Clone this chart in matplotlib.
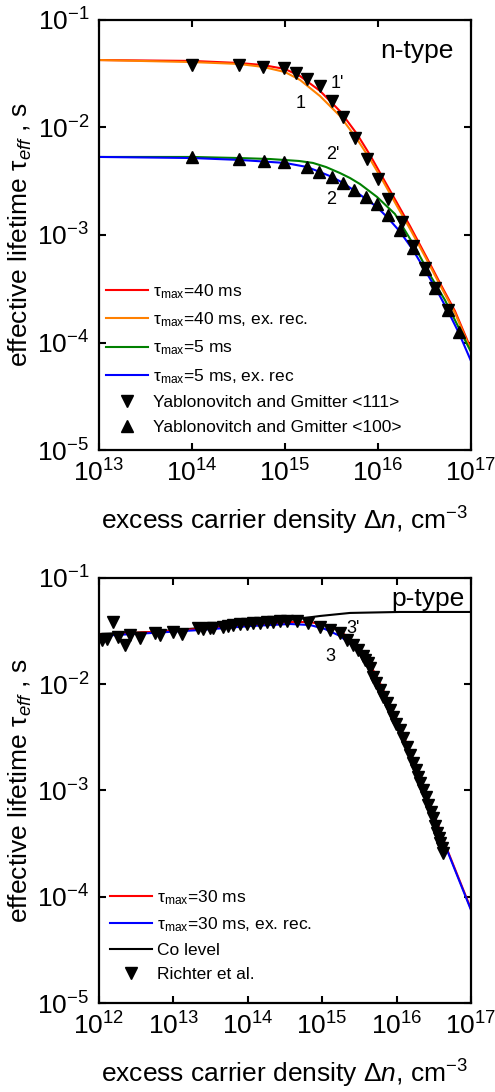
import matplotlib
matplotlib.use('Agg')
import matplotlib.pyplot as plt

plt.rcParams['font.family'] = ['Liberation Sans', 'DejaVu Sans']
plt.rcParams['mathtext.fontset'] = 'custom'
plt.rcParams['mathtext.rm'] = 'Liberation Sans'
plt.rcParams['mathtext.it'] = 'Liberation Sans:italic'
plt.rcParams['mathtext.default'] = 'regular'

# ---- n-type panel (top) ----
n_dn_red = [1e13, 1e14, 3.2e14, 5.8e14, 1e15, 1.45e15, 2.38e15, 3.9e15, 5.94e15, 8.2e15,
            1.13e16, 1.6e16, 2.21e16, 3.36e16, 4.64e16, 6.73e16, 1e17]
n_tau_red = [0.0424, 0.0416, 0.0398, 0.0381, 0.0350, 0.0301, 0.0219, 0.0142, 8.71e-3, 5.55e-3,
             3.39e-3, 1.99e-3, 1.21e-3, 6.11e-4, 3.57e-4, 1.96e-4, 8.7e-5]
n_tau_orange = [0.0424, 0.0406, 0.0390, 0.0366, 0.0328, 0.0277, 0.0196, 0.0128, 7.82e-3, 5.09e-3,
                3.18e-3, 1.86e-3, 1.14e-3, 5.85e-4, 3.43e-4, 1.88e-4, 8.4e-5]
n_dn_green = [1e13, 1e14, 3.2e14, 6.9e14, 1.42e15, 2e15, 2.76e15, 3.9e15, 5e15, 6.4e15,
              9.76e15, 1.52e16, 2.5e16, 3.62e16, 5.25e16, 7.24e16, 1e17]
n_tau_green = [5.32e-3, 5.32e-3, 5.2e-3, 5.09e-3, 4.88e-3, 4.68e-3, 4.29e-3, 3.77e-3, 3.39e-3, 2.98e-3,
               2.26e-3, 1.57e-3, 7.73e-4, 4.25e-4, 2.48e-4, 1.42e-4, 8.17e-5]
n_dn_blue = [1e13, 1e14, 3.28e14, 1e15, 1.73e15, 2.38e15, 3.2e15, 4.2e15, 5.66e15, 7.43e15,
             9.76e15, 1.28e16, 1.73e16, 2.38e16, 3.2e16, 4.21e16, 5.66e16, 7.43e16, 1e17]
n_tau_blue = [5.32e-3, 5.2e-3, 4.99e-3, 4.68e-3, 4.29e-3, 3.85e-3, 3.47e-3, 3.05e-3, 2.56e-3, 2.16e-3,
              1.82e-3, 1.44e-3, 1.07e-3, 7.25e-4, 4.72e-4, 3.15e-4, 1.96e-4, 1.22e-4, 6.73e-5]

# Yablonovitch and Gmitter
yg111_dn = [1e14, 3.2e14, 5.8e14, 9.8e14, 1.31e15, 1.73e15, 2.38e15, 3.2e15, 4.2e15, 5.66e15,
            7.6e15, 1e16, 1.28e16, 1.81e16, 2.38e16, 3.2e16, 4.1e16, 5.66e16]
yg111_tau = [0.0381, 0.0381, 0.0366, 0.0358, 0.0321, 0.0282, 0.0243, 0.0176, 0.0125, 7.98e-3,
             5.09e-3, 3.32e-3, 2.16e-3, 1.32e-3, 7.9e-4, 4.93e-4, 3.21e-4, 2.0e-4]
yg100_dn = [1e14, 3.2e14, 5.94e14, 9.8e14, 1.73e15, 2.32e15, 3.2e15, 4.2e15, 5.52e15, 7.43e15,
            9.76e15, 1.28e16, 1.73e16, 2.38e16, 3.2e16, 4.1e16, 5.66e16, 7.43e16]
yg100_tau = [5.32e-3, 5.09e-3, 4.88e-3, 4.78e-3, 4.29e-3, 3.86e-3, 3.47e-3, 3.05e-3, 2.62e-3, 2.26e-3,
             1.94e-3, 1.53e-3, 1.11e-3, 7.57e-4, 4.83e-4, 3.21e-4, 2.0e-4, 1.25e-4]

# ---- p-type panel (bottom) ----
p_dn = [1e12, 4.84e12, 2.28e13, 1.07e14, 3.69e14, 6.86e14, 1.09e15, 1.73e15, 2.59e15, 3.76e15,
        5.62e15, 8.15e15, 1.11e16, 2.07e16, 4.76e16, 1e17]
p_tau_red = [0.0291, 0.0310, 0.0331, 0.0361, 0.0385, 0.0385, 0.0361, 0.0317, 0.0255, 0.0188,
             0.0112, 6.52e-3, 3.96e-3, 1.34e-3, 2.81e-4, 7.67e-5]
p_tau_blue = [0.0285, 0.0303, 0.0324, 0.0353, 0.0369, 0.0361, 0.0331, 0.0285, 0.0229, 0.0169,
              0.0103, 6.11e-3, 3.71e-3, 1.28e-3, 2.75e-4, 7.5e-5]
co_dn = [1e12, 4.84e12, 2.28e13, 1.07e14, 3.69e14, 9.33e14, 2.37e15, 1.11e16, 1e17]
co_tau = [0.0297, 0.0310, 0.0338, 0.0369, 0.0403, 0.0439, 0.0469, 0.0479, 0.0479]

# Richter et al.
ri_dn = [1.10e12, 1.28e12, 1.54e12, 1.80e12, 2.23e12, 2.61e12, 3.56e12, 5.66e12, 6.61e12, 9.9e12,
         1.31e13, 2.14e13, 2.50e13, 3.10e13, 3.40e13, 4.64e13, 5.42e13, 6.33e13, 7.85e13, 9.75e13,
         1.17e14, 1.46e14, 1.81e14, 2.18e14, 2.71e14, 3.37e14, 4.58e14, 6.44e14, 9.34e14, 1.27e15,
         1.73e15, 2.15e15, 2.59e15, 3.03e15, 3.53e15, 3.76e15, 4.13e15, 4.39e15, 4.82e15, 5.28e15,
         5.98e15, 6.56e15, 7.43e15, 8.15e15, 8.95e15, 9.82e15, 1.11e16, 1.22e16, 1.38e16, 1.51e16,
         1.66e16, 1.82e16, 1.94e16, 2.07e16, 2.26e16, 2.48e16, 2.64e16, 2.90e16, 3.08e16, 3.28e16,
         3.49e16, 3.72e16, 3.83e16, 4.07e16, 4.21e16]
ri_tau = [0.0261, 0.0267, 0.0385, 0.0279, 0.0234, 0.0291, 0.0272, 0.0303, 0.0291, 0.0310,
          0.0297, 0.0338, 0.0331, 0.0338, 0.0338, 0.0346, 0.0353, 0.0361, 0.0369, 0.0369,
          0.0377, 0.0377, 0.0385, 0.0385, 0.0394, 0.0394, 0.0394, 0.0377, 0.0346, 0.0324,
          0.0303, 0.0261, 0.0234, 0.0210, 0.0184, 0.0169, 0.0158, 0.0142, 0.0117, 0.0103,
          8.83e-3, 7.59e-3, 6.66e-3, 5.72e-3, 4.92e-3, 4.23e-3, 3.71e-3, 3.12e-3, 2.57e-3, 2.16e-3,
          1.81e-3, 1.56e-3, 1.34e-3, 1.18e-3, 1.01e-3, 8.69e-4, 7.31e-4, 6.28e-4, 5.51e-4, 4.64e-4,
          3.98e-4, 3.57e-4, 3.21e-4, 2.88e-4, 2.58e-4]

TICK_FS = 19
LBL_FS = 19
LEG_FS = 12.5


def style_axes(ax, xticks):
   ax.set_xscale('log')
   ax.set_yscale('log')
   ax.set_xlim(xticks[0], xticks[-1])
   ax.set_ylim(1e-5, 1e-1)
   ax.set_xticks(xticks)
   ax.set_yticks([1e-5, 1e-4, 1e-3, 1e-2, 1e-1])
   ax.minorticks_off()
   ax.tick_params(which='major', direction='in', top=True, right=True,
                  length=5, width=1.5, labelsize=TICK_FS, pad=7)
   for sp in ax.spines.values():
      sp.set_linewidth(1.6)
   ax.set_ylabel(r'effective lifetime $\tau_{\mathit{eff}}$ , s', fontsize=LBL_FS, labelpad=2)
   ax.set_xlabel(r'excess carrier density $\Delta\mathit{n}$, cm$^{-3}$', fontsize=LBL_FS, labelpad=13)


fig = plt.figure(figsize=(4.95, 10.92), dpi=100)
ax1 = fig.add_axes([0.2, 0.5879, 0.7515, 0.3938])
ax2 = fig.add_axes([0.2, 0.0815, 0.7515, 0.3892])

# top panel
l1, = ax1.plot(n_dn_red, n_tau_red, color='#ff0000', lw=1.5, label=r'$\tau_{max}$=40 ms')
l2, = ax1.plot(n_dn_red, n_tau_orange, color='#ff8000', lw=1.5, label=r'$\tau_{max}$=40 ms, ex. rec.')
l3, = ax1.plot(n_dn_green, n_tau_green, color='#008000', lw=1.5, label=r'$\tau_{max}$=5 ms')
l4, = ax1.plot(n_dn_blue, n_tau_blue, color='#0000ff', lw=1.5, label=r'$\tau_{max}$=5 ms, ex. rec')
s1, = ax1.plot(yg111_dn, yg111_tau, 'v', color='k', ms=9, ls='none', label='Yablonovitch and Gmitter <111>')
s2, = ax1.plot(yg100_dn, yg100_tau, '^', color='k', ms=9, ls='none', label='Yablonovitch and Gmitter <100>')
style_axes(ax1, [1e13, 1e14, 1e15, 1e16, 1e17])
ax1.legend(handles=[l1, l2, l3, l4, s1, s2], loc='lower left', bbox_to_anchor=(0.02, 0.035),
           frameon=False, fontsize=LEG_FS, handlelength=2.4, handletextpad=0.3,
           labelspacing=0.55, borderpad=0, borderaxespad=0)
ax1.text(3.62e15, 0.0254, "1'", fontsize=13, ha='center', va='center')
ax1.text(1.49e15, 0.0166, "1", fontsize=13, ha='center', va='center')
ax1.text(3.28e15, 5.55e-3, "2'", fontsize=13, ha='center', va='center')
ax1.text(3.13e15, 2.16e-3, "2", fontsize=13, ha='center', va='center')
ax1.text(0.952, 0.928, 'n-type', transform=ax1.transAxes, fontsize=19, ha='right', va='center')

# bottom panel
c1, = ax2.plot(co_dn, co_tau, color='k', lw=1.5, label='Co level')
r1, = ax2.plot(p_dn, p_tau_red, color='#ff0000', lw=1.5, label=r'$\tau_{max}$=30 ms')
b1, = ax2.plot(p_dn, p_tau_blue, color='#0000ff', lw=1.5, label=r'$\tau_{max}$=30 ms, ex. rec.')
s3, = ax2.plot(ri_dn, ri_tau, 'v', color='k', ms=8.5, ls='none', label='Richter et al.')
style_axes(ax2, [1e12, 1e13, 1e14, 1e15, 1e16, 1e17])
ax2.legend(handles=[r1, b1, c1, s3], loc='lower left', bbox_to_anchor=(0.03, 0.05),
           frameon=False, fontsize=LEG_FS, handlelength=2.4, handletextpad=0.3,
           labelspacing=0.5, borderpad=0, borderaxespad=0)
ax2.text(2.59e15, 0.0338, "3'", fontsize=13, ha='center', va='center')
ax2.text(1.27e15, 0.0184, "3", fontsize=13, ha='center', va='center')
ax2.text(0.984, 0.951, 'p-type', transform=ax2.transAxes, fontsize=19, ha='right', va='center')

plt.savefig('out.png', dpi=100)
print("~~Done :)")
